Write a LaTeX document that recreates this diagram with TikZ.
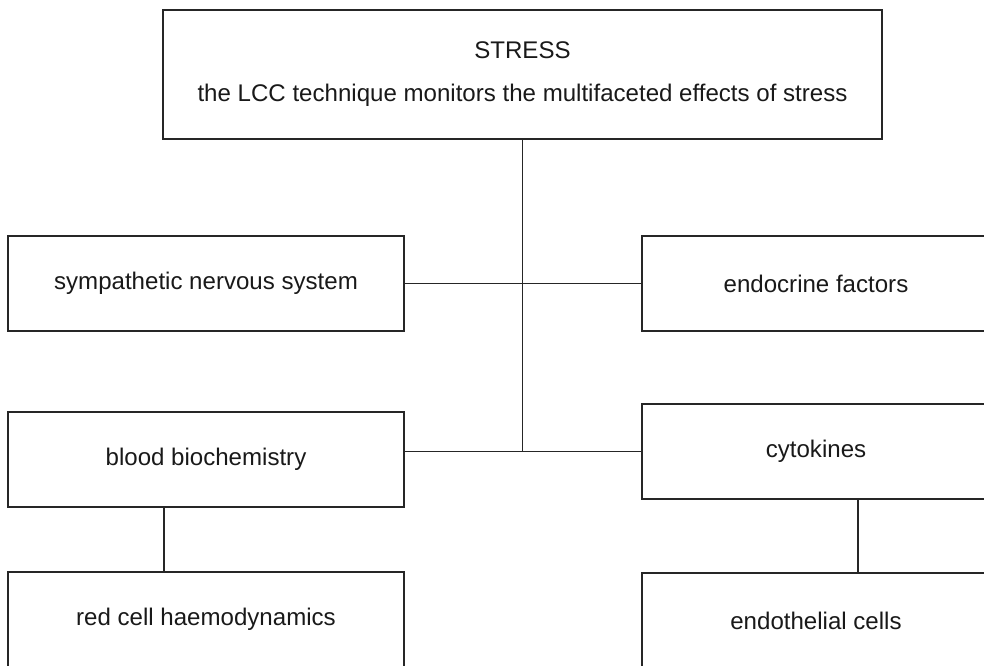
\documentclass[tikz,border=0pt]{standalone}
\usepackage{fontspec}
\setmainfont{Liberation Sans}
\usetikzlibrary{calc}

\tikzset{
  box/.style={draw=black!85, line width=0.9pt, inner sep=0pt, outer sep=0pt,
    text=black!90, font=\fontsize{13.7}{24.5}\selectfont, align=center},
  link/.style={draw=black!85, line width=0.9pt},
}

\begin{document}
\begin{tikzpicture}[%
scale=1,
]
\useasboundingbox (0,0) rectangle (19.68,13.3);
\clip (0,0) rectangle (19.68,13.3);
%% box;
\node [box, minimum width=14.38cm, minimum height=2.58cm] (stress) at (10.45,11.81)
  {STRESS\\the LCC technique monitors the multifaceted effects of stress};
%% box;
\node [box, minimum width=7.92cm, minimum height=1.90cm] (sympathetic) at (4.12,7.63) {sympathetic nervous system};
%% box;
\node [box, minimum width=6.96cm, minimum height=1.90cm] (endocrine) at (16.32,7.63) {endocrine factors};
%% box;
\node [box, minimum width=7.92cm, minimum height=1.90cm] (blood) at (4.12,4.11) {blood biochemistry};
%% box;
\node [box, minimum width=6.96cm, minimum height=1.90cm] (cytokines) at (16.32,4.27) {cytokines};
%% box;
\node [box, minimum width=7.92cm, minimum height=1.90cm] (redcell) at (4.12,0.91) {red cell haemodynamics};
%% box;
\node [box, minimum width=6.96cm, minimum height=1.90cm] (endothelial) at (16.32,0.89) {endothelial cells};
%% line;
\draw [link] (stress.south) -- (stress.south |- cytokines.west);
%% line;
\draw [link] (sympathetic.east) -- (endocrine.west);
%% line;
\draw [link] (cytokines.west) -- (cytokines.west -| blood.east);
%% line;
\draw [link] ([xshift=-0.84cm]blood.south) -- ([xshift=-0.84cm]blood.south |- redcell.north);
%% line;
\draw [link] ([xshift=0.84cm]cytokines.south) -- ([xshift=0.84cm]cytokines.south |- endothelial.north);
\end{tikzpicture}
\end{document}
